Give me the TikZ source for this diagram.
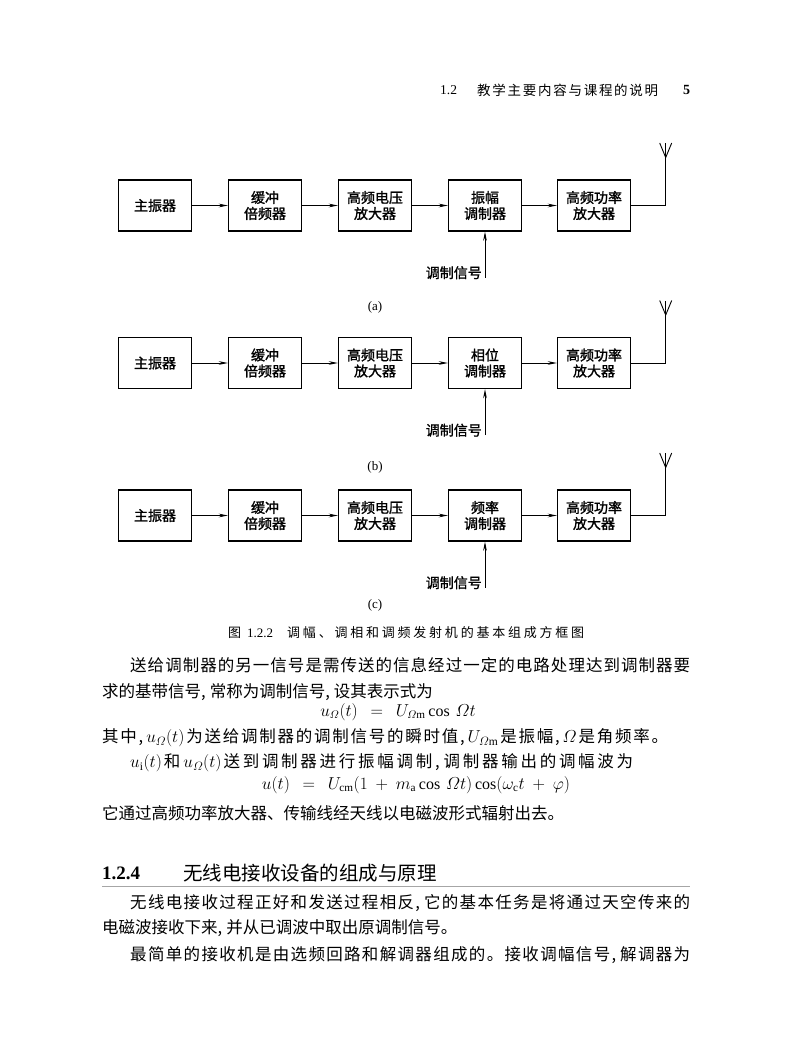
\documentclass[tikz,border=0pt]{standalone}
\usepackage{amsmath}
\usepackage{fontspec}
\setmainfont{Liberation Serif}
\newfontfamily\cjk{Noto Sans CJK SC}
\newfontfamily\cjkb{Noto Sans CJK SC}[FakeBold=1.4]
\usetikzlibrary{arrows.meta}
% stretchable glue between CJK characters (for justified lines)
\count255="4E00
\loop
  \XeTeXcharclass\count255=1
  \advance\count255 by 1
\ifnum\count255<"A000 \repeat
\XeTeXcharclass"3001=3
\XeTeXcharclass"3002=3
\XeTeXinterchartokenstate=1
\XeTeXinterchartoks 1 1 = {\hskip 0pt plus 4pt\relax}
\XeTeXinterchartoks 1 3 = {\hskip 0pt plus 4pt\relax}
\XeTeXinterchartoks 3 1 = {\hskip 0pt plus 4pt\relax}
\XeTeXinterchartoks 1 0 = {\hskip 0pt plus 4pt\relax}
\XeTeXinterchartoks 0 1 = {\hskip 0pt plus 4pt\relax}
\newcommand\Om{\varOmega}
\tikzset{
  box/.style={draw, line width=1.4pt, minimum width=73pt, minimum height=51pt,
    inner sep=0pt, align=center, font=\cjkb\fontsize{14}{16}\selectfont},
  arr/.style={-{Stealth[length=9pt,width=3.6pt]}, line width=0.9pt},
  ln/.style={line width=0.9pt},
  lbl/.style={font=\cjkb\fontsize{14}{16}\selectfont, anchor=east, inner sep=0pt},
  panel/.style={font=\fontsize{13}{15}\selectfont, inner sep=0pt},
  body/.style={font=\cjk\fontsize{16.5}{19}\selectfont, anchor=west, inner sep=0pt},
  eq/.style={font=\fontsize{16}{19}\selectfont, inner sep=0pt},
}
\newcommand\txrow[4]{%
  \node[box] (#1a) at (155,#2) {主振器};
  \node[box] (#1b) at (265,#2) {缓冲\\倍频器};
  \node[box] (#1c) at (375,#2) {高频电压\\放大器};
  \node[box] (#1d) at (485,#2) {#3\\调制器};
  \node[box] (#1e) at (594,#2) {高频功率\\放大器};
  \draw[arr] (#1a) -- (#1b);
  \draw[arr] (#1b) -- (#1c);
  \draw[arr] (#1c) -- (#1d);
  \draw[arr] (#1d) -- (#1e);
  \coordinate (#1k) at ([xshift=34.5pt]#1e.east);
  \coordinate (#1f) at ([yshift=48pt]#1k);
  \coordinate (#1t) at ([yshift=62.5pt]#1k);
  \coordinate (#1l) at ([xshift=-6pt,yshift=62.5pt]#1k);
  \coordinate (#1r) at ([xshift=6pt,yshift=62.5pt]#1k);
  \draw[ln] (#1e.east) -- (#1k) -- (#1t);
  \draw[ln] (#1l) -- (#1f) -- (#1r);
  \coordinate (#1m) at ([yshift=-46pt]#1d.south);
  \draw[arr] (#1m) -- (#1d.south);
  \node[lbl] (#1s) at ([xshift=-3pt,yshift=-41pt]#1d.south) {调制信号};
  \node[panel] (#1p) at ([yshift=-#4pt]#1c.center) {(#1)};
}
\begin{document}
\begin{tikzpicture}[x=1pt,y=-1pt]
\useasboundingbox[fill=white] (0,0) rectangle (803,1063);
% header
\node[anchor=west, inner sep=0pt, font=\fontsize{13.5}{16}\selectfont] (h1) at (440,90) {1.2};
\node[anchor=west, inner sep=0pt, font=\cjk\fontsize{13.5}{16}\selectfont] (h2) at (477,90)
  {\makebox[181pt][s]{教学主要内容与课程的说明}};
\node[anchor=west, inner sep=0pt, font=\bfseries\fontsize{14}{16}\selectfont] (h3) at (683,90) {5};
% diagrams
\txrow{a}{205.5}{振幅}{101.5}
\txrow{b}{363}{相位}{104}
\txrow{c}{515.5}{频率}{89.5}
% caption
\node[anchor=west, inner sep=0pt, font=\cjk\fontsize{13}{15}\selectfont] (cap) at (228,633)
  {\makebox[356pt][s]{图\kern6pt{\rmfamily 1.2.2}\kern14pt 调幅、调相和调频发射机的基本组成方框图}};
% body text
\node[body] (l1) at (130,665) {\makebox[560pt][s]{送给调制器的另一信号是需传送的信息经过一定的电路处理达到调制器要}};
\node[body] (l2) at (102,692) {求的基带信号,\kern4pt常称为调制信号,\kern4pt设其表示式为};
\node[eq] (e1) at (398,712) {$u_{\Om}(t)\ \ =\ \ U_{\Om\mathrm m}\cos\,\Om t$};
\node[body] (l4) at (102,738) {\makebox[566pt][s]{其中,\kern3pt$u_{\Om}(t)$\kern2pt 为送给调制器的调制信号的瞬时值,\kern3pt$U_{\Om\mathrm m}$\kern2pt 是振幅,\kern3pt$\Om$\kern2pt 是角频率。}};
\node[body] (l5) at (130,763) {\makebox[503pt][s]{$u_{\mathrm i}(t)$\kern2pt 和\kern3pt$u_{\Om}(t)$\kern2pt 送到调制器进行振幅调制,\kern4pt调制器输出的调幅波为}};
\node[eq] (e2) at (416,785) {$u(t)\ \ =\ \ U_{\mathrm{cm}}(1\ +\ m_{\mathrm a}\cos\,\Om t)\cos(\omega_{\mathrm c}t\ +\ \varphi)$};
\node[body] (l7) at (102,813) {它通过高频功率放大器、传输线经天线以电磁波形式辐射出去。};
% section heading
\node[anchor=west, inner sep=0pt, font=\bfseries\fontsize{19}{22}\selectfont] (s1) at (102,873) {1.2.4};
\node[anchor=west, inner sep=0pt, font=\cjk\fontsize{19.5}{22}\selectfont] (s2) at (183,873) {无线电接收设备的组成与原理};
\draw[gray!70, line width=0.9pt] (102,886) -- (690,886);
\node[body] (p1) at (130,903) {\makebox[560pt][s]{无线电接收过程正好和发送过程相反,\kern4pt它的基本任务是将通过天空传来的}};
\node[body] (p2) at (102,928) {电磁波接收下来,\kern4pt并从已调波中取出原调制信号。};
\node[body] (p3) at (130,955) {\makebox[560pt][s]{最简单的接收机是由选频回路和解调器组成的。接收调幅信号,\kern4pt解调器为}};
\end{tikzpicture}
\end{document}
